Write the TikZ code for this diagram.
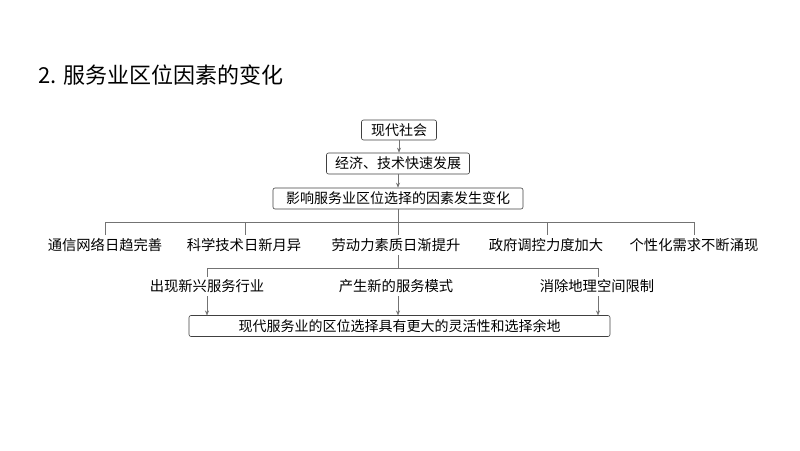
\documentclass[tikz,border=0pt]{standalone}
\usepackage{fontspec}
\setmainfont{Noto Sans CJK SC}
\usetikzlibrary{arrows.meta}
\begin{document}
\begin{tikzpicture}[x=1pt,y=-1pt,
  bx/.style={draw=black!75,rounded corners=2pt,line width=0.6pt,inner sep=2pt,minimum height=21pt,font=\fontsize{14}{16}\selectfont},
  lb/.style={inner sep=1pt,font=\fontsize{14.3}{16}\selectfont},
  ln/.style={draw=black!55,line width=0.6pt},
  ar/.style={ln,-{Stealth[length=5pt,width=4pt]}}]
\useasboundingbox (0,0) rectangle (800,450);
\node[anchor=west,font=\fontsize{22}{26}\selectfont] (title) at (35,75) {2. 服务业区位因素的变化};
\node[bx,minimum width=75pt,minimum height=20pt] (a) at (399,130) {现代社会};
\node[bx,minimum width=143pt] (b) at (398,163.5) {经济、技术快速发展};
\node[bx,minimum width=250pt] (c) at (398,198.5) {影响服务业区位选择的因素发生变化};
\draw[ar] (a) -- (a|-b.north);
\draw[ar] (b) -- (b|-c.north);
\coordinate (h) at (398,222);
\node[lb] (f1) at (105,245) {通信网络日趋完善};
\node[lb] (f2) at (244,245) {科学技术日新月异};
\node[lb] (f3) at (396,245) {劳动力素质日渐提升};
\node[lb] (f4) at (546,245) {政府调控力度加大};
\node[lb] (f5) at (694,245) {个性化需求不断涌现};
\draw[ln] (c.south-|h) -- (h);
\draw[ln] (105,235) -- (105,222) -- (694,222) -- (694,235);
\foreach \x in {245,398,547}{\draw[ln] (\x,222) -- (\x,235);}
\node[lb] (g1) at (207,286) {出现新兴服务行业};
\node[lb] (g2) at (396,286) {产生新的服务模式};
\node[lb] (g3) at (597,286) {消除地理空间限制};
\draw[ln] (398,255) -- (398,268);
\draw[ln] (207,277) -- (207,268) -- (598,268) -- (598,277);
\node[bx,minimum width=421pt,minimum height=21pt] (d) at (399.5,326) {现代服务业的区位选择具有更大的灵活性和选择余地};
\draw[ar] (207,296) -- (207,315.5);
\draw[ar] (398,296) -- (398,315.5);
\draw[ar] (598,296) -- (598,315.5);
\end{tikzpicture}
\end{document}
